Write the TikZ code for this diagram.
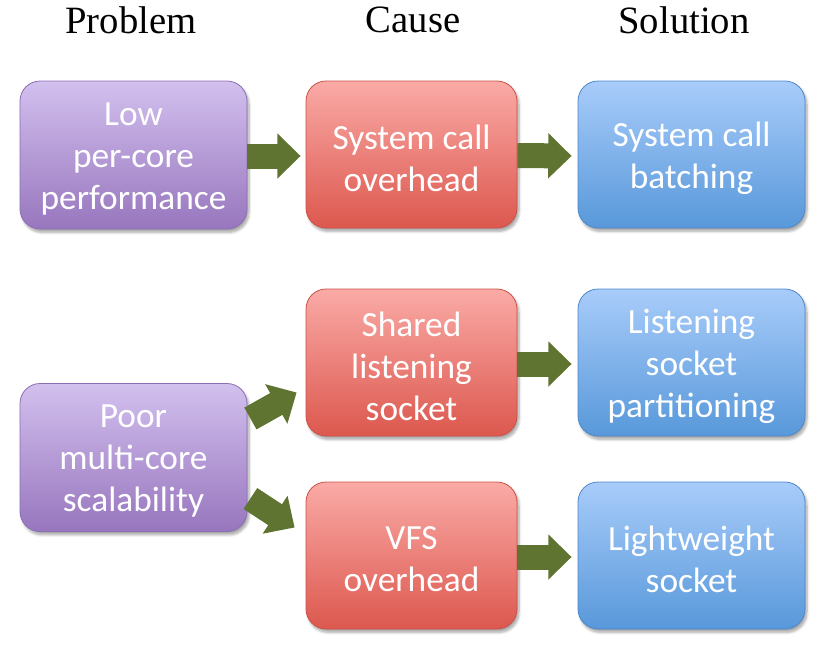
\documentclass[tikz,border=0pt]{standalone}
\usepackage{fontspec}
\setmainfont{Carlito}
\newfontfamily\headfont{Liberation Serif}
\usetikzlibrary{arrows.meta,shadows.blur,calc}
\definecolor{ptop}{RGB}{210,192,238}
\definecolor{pbot}{RGB}{152,118,190}
\definecolor{pdraw}{RGB}{140,110,180}
\definecolor{rtop}{RGB}{250,170,166}
\definecolor{rbot}{RGB}{220,88,78}
\definecolor{rdraw}{RGB}{205,80,72}
\definecolor{btop}{RGB}{168,204,250}
\definecolor{bbot}{RGB}{88,152,218}
\definecolor{bdraw}{RGB}{80,135,200}
\definecolor{olive}{RGB}{96,116,50}
\tikzset{
  box/.style={rounded corners=15pt, line width=0.6pt,
    blur shadow={shadow xshift=1.5pt, shadow yshift=-2.5pt, shadow opacity=35, shadow blur steps=6}},
  txt/.style={align=center, text=white, font=\fontsize{26.5pt}{31.5pt}\selectfont},
  pbox/.style={box, draw=pdraw, top color=ptop, bottom color=pbot, minimum width=170.25pt, minimum height=111pt},
  rbox/.style={box, draw=rdraw, top color=rtop, bottom color=rbot, minimum width=158.25pt, minimum height=110.25pt},
  bbox/.style={box, draw=bdraw, top color=btop, bottom color=bbot, minimum width=170.25pt, minimum height=110.25pt},
  bigarrow/.style={draw=olive, line width=18.75pt, -{Triangle[length=17.5pt, width=33pt]}},
  head/.style={font=\headfont\fontsize{29pt}{34pt}\selectfont, text=black}
}
\begin{document}
\begin{tikzpicture}[x=0.75pt,y=-0.75pt]
\useasboundingbox (0,0) rectangle (822,647);
\node[head] (h1) at (131,20) {Problem};
\node[head] (h2) at (413,20) {Cause};
\node[head] (h3) at (684,20) {Solution};

\node[pbox] (P1) at (133.5,155) {};
\node[rbox] (C1) at (411.5,154.5) {};
\node[bbox] (S1) at (691.5,154.5) {};
\node[rbox] (C2) at (411.5,362.5) {};
\node[bbox] (S2) at (691.5,362.5) {};
\node[pbox] (P2) at (133.5,457.5) {};
\node[rbox] (C3) at (411.5,555.5) {};
\node[bbox] (S3) at (691.5,555.5) {};

\node[txt] (P1t) at ($(P1)+(0,4)$) {Low\\per-core\\performance};
\node[txt] (C1t) at ($(C1)+(0,4)$) {System call\\overhead};
\node[txt] (S1t) at ($(S1)+(0,4)$) {System call\\batching};
\node[txt] (C2t) at ($(C2)+(0,4)$) {Shared\\listening\\socket};
\node[txt] (S2t) at ($(S2)+(0,4)$) {Listening\\socket\\partitioning};
\node[txt] (P2t) at ($(P2)+(0,4)$) {Poor\\multi-core\\scalability};
\node[txt] (C3t) at ($(C3)+(0,4)$) {VFS\\overhead};
\node[txt] (S3t) at ($(S3)+(0,4)$) {Lightweight\\socket};

\draw[bigarrow] ($(P1.east)+(0,1)$) -- ($(C1.west)+(-5,1.5)$);
\draw[bigarrow] ($(C1.east)+(0,1)$) -- ($(S1.west)+(-6,1.5)$);
\draw[bigarrow] ($(C2.east)+(0,1.5)$) -- ($(S2.west)+(-6,1.5)$);
\draw[bigarrow] ($(C3.east)+(0,1.5)$) -- ($(S3.west)+(-6,1.5)$);
\draw[bigarrow] ($(P2.east)+(3,-39)$) -- ($(C2.west)+(-9,30)$);
\draw[bigarrow] ($(P2.east)+(3,41)$) -- ($(C3.west)+(-11,-28)$);
\end{tikzpicture}
\end{document}
